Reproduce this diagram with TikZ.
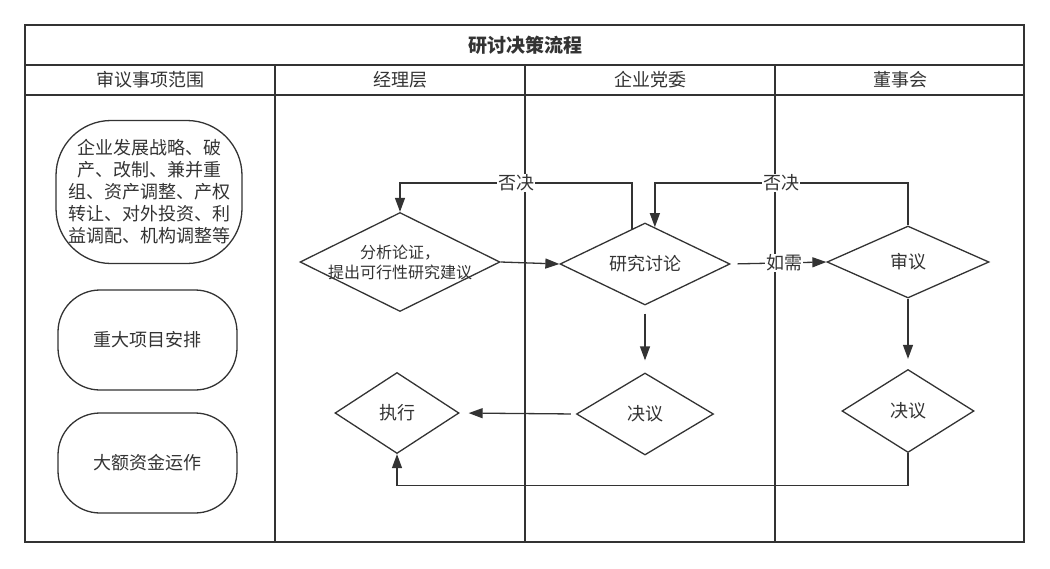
\documentclass[tikz,border=0pt]{standalone}
\usepackage{fontspec}
\setmainfont{Noto Sans CJK SC}
\usetikzlibrary{shapes.geometric,arrows.meta}
\definecolor{ink}{HTML}{333333}

\begin{document}
\begin{tikzpicture}[x=1pt,y=-1pt,
    every node/.style={font=\fontsize{18pt}{22pt}\selectfont,text=ink},
    frame/.style={draw=ink,line width=2pt},
    lane/.style={draw=ink,line width=1.3pt},
    item/.style={draw=ink,line width=1.3pt,rectangle,rounded corners=42pt,align=center,inner sep=0pt},
    dia/.style={draw=ink,line width=1.3pt,diamond,shape aspect=2,inner sep=0pt},
    arr/.style={draw=ink,line width=1.3pt,-{Triangle[length=14pt,width=10pt]}},
    tag/.style={fill=white,inner sep=1pt}]
\useasboundingbox (0,0) rectangle (1050,568);
            % Lanes
\draw[frame] (25,25) rectangle (1024,542);
\draw[frame] (25,65) -- (1024,65);
\draw[frame] (25,95) -- (1024,95);
\foreach \x in {275,525,775}
  \draw[lane] (\x,65) -- (\x,542);
\node[font=\fontsize{19pt}{22pt}\selectfont\bfseries] (title) at (525,45) {研讨决策流程};
\node (scope) at (150,80) {审议事项范围};
\node (mgr) at (400,80) {经理层};
\node (party) at (650,80) {企业党委};
\node (board) at (900,80) {董事会};
%Items
\node[item,rounded corners=55pt,minimum width=186pt,minimum height=143pt] (i1) at (149,192)
  {企业发展战略、破\\产、改制、兼并重\\组、资产调整、产权\\转让、对外投资、利\\益调配、机构调整等};
\node[item,minimum width=179pt,minimum height=100pt] (i2) at (147.5,340) {重大项目安排};
\node[item,minimum width=179pt,minimum height=100pt] (i3) at (147.5,463) {大额资金运作};
%Steps
\node[dia,minimum width=200pt,minimum height=99pt,
  label={[align=center,font=\fontsize{16pt}{20pt}\selectfont]center:分析论证，\\提出可行性研究建议}] (d1) at (400,262) {};
\node[dia,minimum width=170pt,minimum height=82pt] (d2) at (645,264) {研究讨论};
\node[dia,minimum width=162pt,minimum height=72pt] (d3) at (908,262) {审议};
\node[dia,minimum width=137pt,minimum height=82pt] (d4) at (645,414) {决议};
\node[dia,minimum width=124pt,minimum height=81pt] (d5) at (397,413) {执行};
\node[dia,minimum width=132pt,minimum height=83pt] (d6) at (908,411) {决议};
\coordinate (back) at (0,183);
%Connections
\draw[arr] (d1.east) -- (d2.west);
\draw[arr,shorten <=7pt] (d2.east) -- node[tag,pos=0.56] {如需} (d3.west);
\draw[arr,shorten <=8pt,shorten >=12pt] (d2.south) -- (d4.north);
\draw[arr,shorten >=10pt] (d3.south) -- (d6.north);
\draw[arr,shorten <=5pt,shorten >=9pt] (d4.west) -- (d5.east);
\draw[arr] (d6.south) -- ++(0,32) -| (d5.south);
\draw[arr] (d2.110) -- (d2.110 |- back) -- node[tag] {否决} (d1.north |- back) -- (d1.north);
\draw[arr] (d3.north) -- (d3.north |- back) -- node[tag] {否决} (d2.75 |- back) -- (d2.75);

          \end{tikzpicture}
\end{document}
